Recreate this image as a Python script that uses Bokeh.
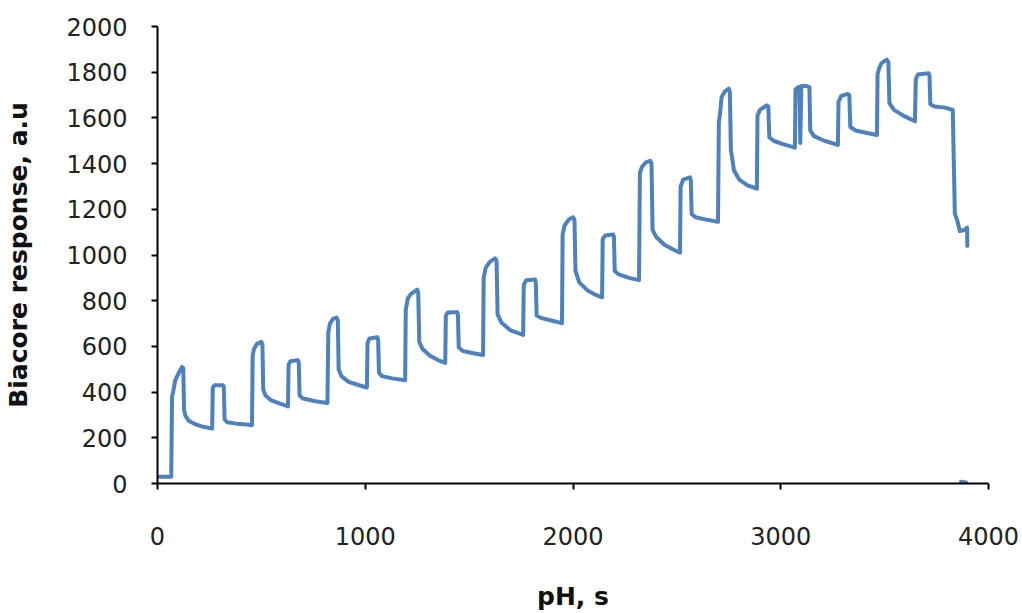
from bokeh.plotting import figure
from bokeh.embed import file_html
from bokeh.resources import INLINE
from bokeh.models import Range1d, FixedTicker

# Data (time in s, Biacore response in a.u.)
time_s = [
    0, 66, 70, 75, 85, 100, 118, 124, 128, 135, 150, 180, 220, 263,
    266, 275, 315, 319, 323, 335, 380, 430, 455,
    458, 465, 478, 500, 505, 509, 520, 545, 590, 628,
    631, 640, 675, 680, 684, 700, 760, 818,
    822, 830, 845, 862, 868, 872, 885, 920, 970, 1008,
    1011, 1020, 1058, 1062, 1066, 1080, 1130, 1192,
    1195, 1205, 1220, 1250, 1255, 1260, 1275, 1310, 1350, 1385,
    1388, 1398, 1442, 1446, 1450, 1470, 1520, 1567,
    1570, 1580, 1600, 1625, 1632, 1637, 1655, 1700, 1760,
    1763, 1775, 1817, 1821, 1825, 1845, 1900, 1947,
    1950, 1960, 1980, 2000, 2007, 2012, 2030, 2070, 2110, 2140,
    2143, 2155, 2193, 2197, 2201, 2220, 2270, 2318,
    2322, 2332, 2350, 2372, 2378, 2383, 2400, 2440, 2480, 2515,
    2518, 2530, 2563, 2567, 2571, 2590, 2640, 2698,
    2702, 2708, 2715, 2730, 2750, 2755, 2760, 2775, 2800, 2840, 2885,
    2888, 2900, 2932, 2940, 2945, 2965, 3010, 3068,
    3071, 3085, 3090, 3094, 3099, 3120, 3138, 3142, 3160, 3210, 3275,
    3278, 3290, 3322, 3330, 3335, 3360, 3410, 3463,
    3466, 3473, 3485, 3510, 3518, 3523, 3545, 3590, 3646,
    3650, 3660, 3712, 3716, 3720, 3740, 3790, 3828,
    3838, 3850, 3862, 3885, 3897, 3898,
]
response = [
    30, 30, 380, 400, 450, 480, 510, 505, 320, 295, 275, 260, 248, 240,
    420, 430, 430, 425, 280, 268, 262, 258, 255,
    560, 590, 610, 620, 610, 410, 385, 365, 350, 337,
    520, 535, 540, 530, 385, 372, 360, 352,
    660, 700, 720, 726, 715, 500, 470, 445, 430, 420,
    615, 635, 640, 630, 485, 470, 460, 452,
    760, 810, 830, 848, 835, 620, 590, 560, 540, 528,
    735, 748, 750, 740, 595, 580, 570, 562,
    900, 945, 970, 985, 975, 740, 705, 670, 650,
    870, 890, 893, 880, 735, 725, 712, 702,
    1090, 1130, 1155, 1165, 1155, 930, 880, 845, 825, 815,
    1070, 1085, 1090, 1080, 930, 915, 900, 890,
    1360, 1385, 1405, 1412, 1400, 1110, 1080, 1045, 1025, 1010,
    1300, 1330, 1340, 1330, 1180, 1165, 1155, 1145,
    1580, 1620, 1690, 1715, 1728, 1715, 1460, 1370, 1330, 1305, 1290,
    1610, 1635, 1655, 1650, 1515, 1500, 1485, 1470,
    1725, 1735, 1735, 1490, 1740, 1740, 1735, 1545, 1520, 1500, 1482,
    1670, 1695, 1705, 1700, 1560, 1545, 1535, 1525,
    1790, 1815, 1840, 1855, 1845, 1665, 1635, 1610, 1585,
    1770, 1790, 1795, 1785, 1660, 1650, 1645, 1635,
    1180, 1150, 1105, 1110, 1120, 1040,
]
# stray point near the x axis at the end of the run
tail_time = [3868, 3892]
tail_response = [8, 4]

x_ticks = [0, 1000, 2000, 3000, 4000]
y_ticks = [0, 200, 400, 600, 800, 1000, 1200, 1400, 1600, 1800, 2000]

LINE_COLOR = "#4F81BD"
FONT = "DejaVu Sans"

p = figure(width=1022, height=613, output_backend="svg", toolbar_location=None,
           x_range=Range1d(0, 4000), y_range=Range1d(0, 2000),
           min_border_left=157, min_border_right=34, min_border_top=26,
           min_border_bottom=130)
p.outline_line_color = None
p.xgrid.grid_line_color = None
p.ygrid.grid_line_color = None
p.background_fill_color = "white"
p.border_fill_color = "white"

p.line(time_s, response, line_color=LINE_COLOR, line_width=4,
       line_join="round", line_cap="round")
p.line(tail_time, tail_response, line_color=LINE_COLOR, line_width=4,
       line_cap="round")

for ax in (p.xaxis[0], p.yaxis[0]):
    ax.axis_line_color = "black"
    ax.axis_line_width = 2
    ax.major_tick_line_color = "black"
    ax.major_tick_line_width = 2
    ax.major_tick_in = 0
    ax.major_tick_out = 6
    ax.minor_tick_line_color = None
    ax.major_label_text_font = FONT
    ax.major_label_text_font_size = "24px"
    ax.major_label_text_color = "#222222"
    ax.axis_label_text_font = FONT
    ax.axis_label_text_font_style = "bold"
    ax.axis_label_text_font_size = "25px"
    ax.axis_label_text_color = "#111111"

p.xaxis.ticker = FixedTicker(ticks=x_ticks)
p.yaxis.ticker = FixedTicker(ticks=y_ticks)
p.xaxis.axis_label = "pH, s"
p.yaxis.axis_label = "Biacore response, a.u"
p.xaxis.major_label_standoff = 37
p.yaxis.major_label_standoff = 24
p.xaxis.axis_label_standoff = 34
p.yaxis.axis_label_standoff = 30

open("out.html", "w").write(file_html(p, INLINE))
